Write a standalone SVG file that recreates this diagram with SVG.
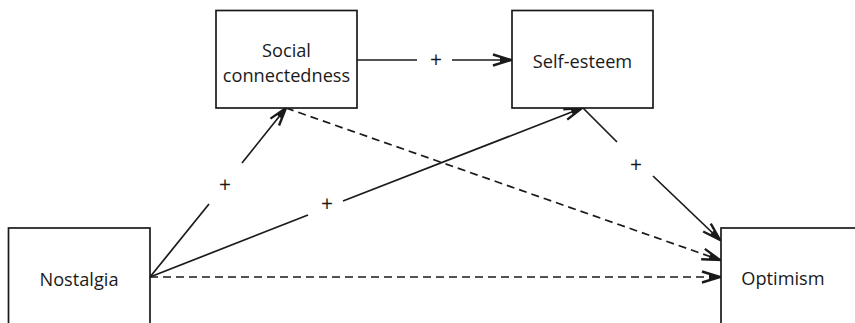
<svg xmlns="http://www.w3.org/2000/svg" width="855" height="323" viewBox="0 0 855 323">
<style>
.box{fill:#fff;stroke:#1a1a1a;stroke-width:1.7}
.t{font-family:"Open Sans","Liberation Sans",sans-serif;font-size:18.2px;fill:#1a1a1a;text-anchor:middle}
.c{fill:none;stroke:#1a1a1a;stroke-width:1.7}
.d{stroke-dasharray:8,5}
.p{font-family:"Open Sans","Liberation Sans",sans-serif;font-size:21px;fill:#1a1a1a;text-anchor:middle}
</style>
<defs>
<marker id="ah" markerUnits="userSpaceOnUse" viewBox="0 0 20 14" refX="19" refY="7" markerWidth="20" markerHeight="14" orient="auto">
<path d="M1,1.5 L19,7 L1,12.5" fill="none" stroke="#1a1a1a" stroke-width="2.4" stroke-linejoin="miter"/>
<path d="M8,4 L19,7 L8,10 Z" fill="#1a1a1a"/>
</marker>
</defs>
<rect width="855" height="323" fill="#fff"/>
<g id="connectors">
<line class="c" x1="357" y1="60" x2="417" y2="60"/>
<line class="c" x1="452" y1="60" x2="511" y2="60" marker-end="url(#ah)"/>
<line class="c" x1="150" y1="277" x2="209" y2="204"/>
<line class="c" x1="242" y1="163" x2="286" y2="108" marker-end="url(#ah)"/>
<line class="c" x1="150" y1="277" x2="308" y2="215"/>
<line class="c" x1="343" y1="201" x2="582" y2="108" marker-end="url(#ah)"/>
<line class="c" x1="583" y1="108" x2="617" y2="142"/>
<line class="c" x1="653" y1="176" x2="720" y2="240" marker-end="url(#ah)"/>
<line class="c d" x1="286" y1="108" x2="720" y2="260" marker-end="url(#ah)"/>
<line class="c d" x1="150" y1="277" x2="720" y2="277" marker-end="url(#ah)"/>
<text class="p" x="436" y="67">+</text>
<text class="p" x="225" y="192">+</text>
<text class="p" x="327" y="211">+</text>
<text class="p" x="636" y="172">+</text>
</g>
<g id="social">
<rect class="box" x="216" y="10.5" width="141" height="97.5"/>
<text class="t" x="286.5" y="57">Social</text>
<text class="t" x="286.5" y="82">connectedness</text>
</g>
<g id="selfesteem">
<rect class="box" x="512" y="10.5" width="141" height="97.5"/>
<text class="t" x="582.5" y="68">Self-esteem</text>
</g>
<g id="nostalgia">
<rect class="box" x="8.5" y="228" width="141.5" height="110"/>
<text class="t" x="79" y="286">Nostalgia</text>
</g>
<g id="optimism">
<rect class="box" x="721" y="228" width="141" height="110"/>
<text class="t" x="783" y="285">Optimism</text>
</g>
</svg>
